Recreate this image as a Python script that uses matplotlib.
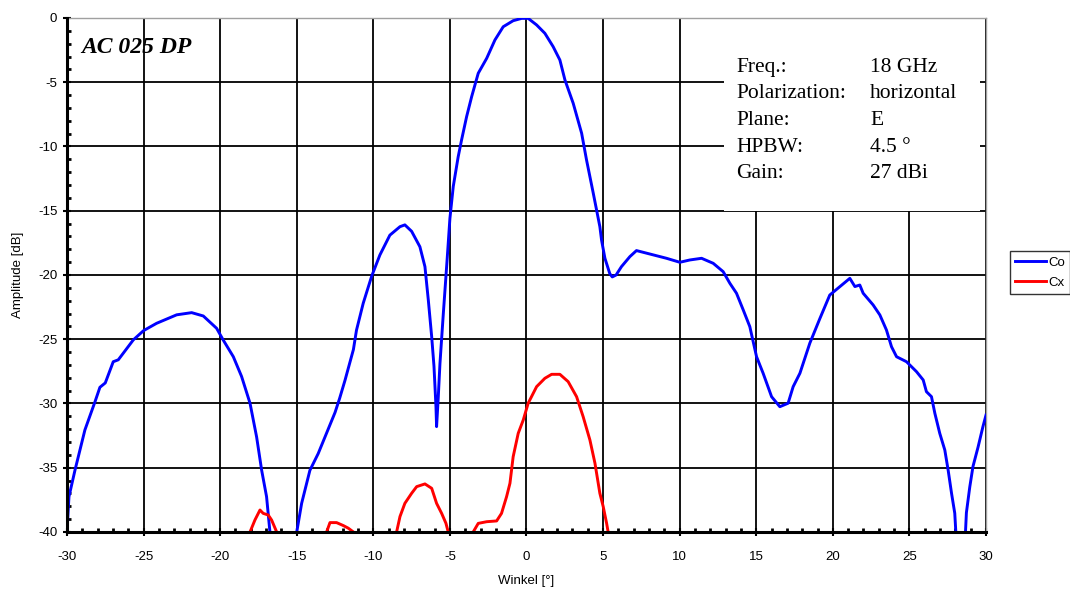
import numpy as np
import matplotlib
matplotlib.use('Agg')
import matplotlib.pyplot as plt
from matplotlib.ticker import MultipleLocator
from matplotlib.patches import Rectangle

plt.rcParams['font.family'] = ['Liberation Sans', 'DejaVu Sans']
plt.rcParams['axes.unicode_minus'] = False

nan = np.nan

# Co (co-polar) pattern, gaps where the curve drops below -40 dB
co_x = [-30.0, -29.87, -29.48, -28.83, -28.17, -27.85, -27.5, -26.98, -26.65, -25.67,
        -25.0, -24.15, -22.84, -21.86, -21.1, -20.23, -19.8, -19.14, -18.6, -18.05,
        -17.62, -17.29, -16.97, -16.75, nan,
        -15.0, -14.68, -14.14, -13.6, -13.05, -12.5, -12.2, -11.85, -11.3, -11.1,
        -10.66, -10.11, -9.57, -8.92, -8.26, -7.94, -7.5, -6.96, -6.63, -6.41,
        -6.19, -6.04, -5.91, -5.87, -5.76, -5.65, -5.43, -5.17, -5.0, -4.78,
        -4.46, -4.24, -3.91, -3.58, -3.15, -2.6, -2.06, -1.52, -0.87, -0.32,
        0.11, 0.66, 1.2, 1.74, 2.18, 2.51, 3.05, 3.6, 3.92, 4.36,
        4.79, 4.9, 5.12, 5.44, 5.6, 5.85, 6.2, 6.75, 7.18, 8.05,
        9.14, 10.01, 10.67, 11.43, 12.19, 12.84, 13.28, 13.71, 14.15, 14.58,
        15.02, 15.45, 16.0, 16.54, 17.08, 17.41, 17.85, 18.5, 19.15, 19.8,
        20.46, 21.11, 21.44, 21.76, 21.98, 22.63, 23.07, 23.5, 23.83, 24.16,
        24.81, 25.46, 25.9, 26.11, 26.44, 26.66, 26.98, 27.31, 27.53, 27.75,
        27.96, 28.03, nan,
        28.66, 28.72, 28.94, 29.15, 29.48, 29.8, 30.0]
co_y = [-40.0, -37.25, -35.2, -32.06, -29.86, -28.74, -28.4, -26.75, -26.6, -25.05,
        -24.33, -23.76, -23.1, -22.93, -23.19, -24.15, -25.06, -26.36, -27.9, -29.98,
        -32.6, -35.2, -37.25, -40.0, nan,
        -40.0, -37.77, -35.2, -33.9, -32.3, -30.7, -29.6, -28.2, -25.8, -24.3,
        -22.2, -20.1, -18.44, -16.9, -16.24, -16.1, -16.6, -17.8, -19.35, -21.95,
        -24.8, -27.1, -30.25, -31.8, -29.5, -26.9, -23.0, -18.6, -15.6, -13.1,
        -10.8, -9.5, -7.68, -6.12, -4.3, -3.14, -1.71, -0.68, -0.21, -0.03,
        -0.03, -0.54, -1.19, -2.23, -3.27, -4.82, -6.64, -8.97, -11.05, -13.64,
        -16.24, -17.28, -18.7, -19.9, -20.15, -20.0, -19.35, -18.57, -18.1, -18.37,
        -18.7, -19.01, -18.83, -18.7, -19.09, -19.74, -20.65, -21.42, -22.72, -24.02,
        -26.36, -27.65, -29.47, -30.25, -29.98, -28.69, -27.65, -25.3, -23.4, -21.56,
        -20.9, -20.26, -20.9, -20.78, -21.42, -22.33, -23.11, -24.28, -25.58, -26.36,
        -26.75, -27.52, -28.17, -29.08, -29.47, -30.76, -32.32, -33.62, -35.2, -36.99,
        -38.54, -40.0, nan,
        -40.0, -38.5, -36.5, -34.9, -33.4, -31.8, -30.9]

# Cx (cross-polar) pattern, only the parts above -40 dB are visible
cx_x = [-18.05, -17.73, -17.4, -17.19, -16.86, -16.64, -16.31, nan,
        -13.05, -12.83, -12.4, -11.96, -11.64, -11.3, nan,
        -8.48, -8.26, -7.94, -7.5, -7.17, -6.63, -6.19, -5.87, -5.54, -5.26, -5.11, nan,
        -3.48, -3.15, -2.6, -1.95, -1.63, -1.3, -1.08, -0.87, -0.54, -0.21,
        0.11, 0.66, 1.2, 1.64, 2.18, 2.72, 3.27, 3.7, 4.14, 4.47,
        4.79, 5.01, 5.23, 5.33]
cx_y = [-40.0, -39.07, -38.29, -38.55, -38.68, -39.07, -40.0, nan,
        -40.0, -39.27, -39.27, -39.5, -39.7, -40.0, nan,
        -40.0, -38.8, -37.77, -36.99, -36.47, -36.26, -36.6, -37.77, -38.55, -39.32, -40.0, nan,
        -40.0, -39.33, -39.2, -39.14, -38.55, -37.25, -36.21, -34.14, -32.32, -31.28,
        -29.98, -28.69, -28.04, -27.73, -27.73, -28.3, -29.47, -31.03, -32.84, -34.65,
        -36.99, -38.03, -39.32, -40.0]

info_labels = ['Freq.:', 'Polarization:', 'Plane:', 'HPBW:', 'Gain:']
info_values = ['18 GHz', 'horizontal', 'E', '4.5 °', '27 dBi']

fig = plt.figure(figsize=(10.7, 5.94), dpi=100)
ax = fig.add_axes([0.0626, 0.1044, 0.8589, 0.8653])

ax.plot(co_x, co_y, color='#0000ff', lw=2.1, label='Co', zorder=4)
ax.plot(cx_x, cx_y, color='#ff0000', lw=2.1, label='Cx', zorder=4)

ax.set_xlim(-30, 30)
ax.set_ylim(-40, 0)
ax.xaxis.set_major_locator(MultipleLocator(5))
ax.yaxis.set_major_locator(MultipleLocator(5))
ax.xaxis.set_minor_locator(MultipleLocator(1))
ax.yaxis.set_minor_locator(MultipleLocator(1))
ax.grid(True, which='major', color='black', lw=1.3, zorder=1)
ax.set_axisbelow(True)

ax.tick_params(which='major', direction='inout', length=6, width=1.5,
               labelsize=9.5, top=False, right=False)
ax.tick_params(axis='x', which='major', pad=11)
ax.tick_params(axis='y', which='major', pad=4)
ax.tick_params(which='minor', direction='in', length=3, width=2,
               top=False, right=False)

for s in ['left', 'bottom']:
    ax.spines[s].set_linewidth(2.2)
    ax.spines[s].set_color('black')
    ax.spines[s].set_zorder(5)
for s in ['top', 'right']:
    ax.spines[s].set_linewidth(1.0)
    ax.spines[s].set_color('#a0a0a0')

ax.set_xlabel('Winkel [°]', fontsize=9.5, labelpad=8)
ax.set_ylabel('Amplitude [dB]', fontsize=9.5, labelpad=10)

# white info box covering the grid in the upper right
ax.add_patch(Rectangle((0.715, 0.625), 0.278, 0.375, transform=ax.transAxes,
                       facecolor='white', edgecolor='none', zorder=2))
for i, (lab, val) in enumerate(zip(info_labels, info_values)):
    yy = 0.904 - i * 0.0518
    ax.text(0.728, yy, lab, transform=ax.transAxes, fontsize=15.5,
            family='Liberation Serif', va='center', zorder=3)
    ax.text(0.874, yy, val, transform=ax.transAxes, fontsize=15.5,
            family='Liberation Serif', va='center', zorder=3)

ax.text(0.016, 0.942, 'AC 025 DP', transform=ax.transAxes, fontsize=17,
        family='Liberation Serif', style='italic', weight='bold',
        va='center', zorder=3)

leg = fig.legend(loc='upper left', bbox_to_anchor=(1010 / 1070, 1 - 251 / 594),
                 fontsize=9.5, frameon=True, fancybox=False, handlelength=2.3,
                 handletextpad=0.2, borderpad=0.4, labelspacing=0.6,
                 borderaxespad=0)
leg.get_frame().set_edgecolor('black')
leg.get_frame().set_linewidth(1.0)

fig.savefig('out.png', dpi=100)
